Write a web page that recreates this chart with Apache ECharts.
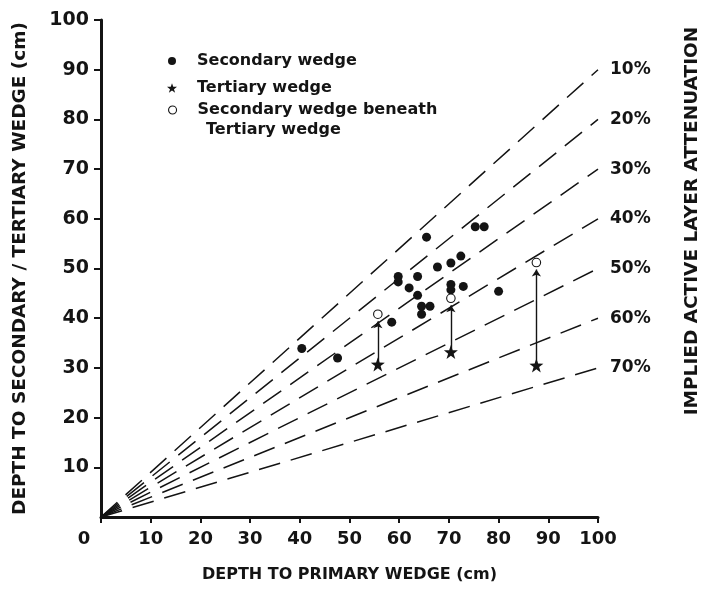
<!DOCTYPE html>
<html>
<head>
<meta charset="utf-8">
<script src="https://cdn.jsdelivr.net/npm/echarts@6/dist/echarts.min.js"></script>
<style>
  html, body { margin: 0; padding: 0; background: #fff; }
  #chart { width: 710px; height: 589px; }
</style>
</head>
<body>
<div id="chart"></div>
<script>
const FONT = 'DejaVu Sans';
const INK = '#141414';

// Attenuation reference lines y = (1 - p) * x, each ending at x = 100
const attenuationLabels = ['10%', '20%', '30%', '40%', '50%', '60%', '70%'];
const attenuationEndY = [90, 80, 70, 60, 50, 40, 30];
const lineEndX = 100;

// [depth to primary wedge, depth to secondary wedge] in cm
const secondaryWedge = [
  [40.4, 33.9], [47.6, 32.0], [58.5, 39.2], [59.8, 48.4], [59.8, 47.3],
  [62.0, 46.1], [63.7, 48.4], [63.7, 44.6], [64.5, 42.4], [66.2, 42.4],
  [64.5, 40.8], [65.5, 56.3], [67.7, 50.3], [70.4, 51.1], [72.4, 52.5],
  [70.4, 46.8], [70.4, 45.7], [72.9, 46.4], [75.3, 58.4], [77.1, 58.4],
  [80.0, 45.4]
];
// [depth to primary wedge, depth to tertiary wedge] in cm
const tertiaryWedge = [[55.7, 30.7], [70.4, 33.2], [87.6, 30.5]];
// secondary wedges found beneath the tertiary wedges above
const secondaryBeneathTertiary = [[55.7, 40.8], [70.4, 44.0], [87.6, 51.2]];

const STAR = 'path://M50,0 L62,34 L98,35 L69,57 L80,92 L50,71 L20,92 L31,57 L2,35 L38,34 Z';
const ARROW_GAP = 1.4; // keeps the arrow tip just below the open circle

const boldText = (size) => ({ fontFamily: FONT, fontWeight: 'bold', fontSize: size, color: INK });

const lineSeries = attenuationLabels.map((label, i) => ({
  name: label,
  type: 'line',
  data: [[0, 0], [lineEndX, attenuationEndY[i]]],
  symbol: 'none',
  silent: true,
  z: 1,
  lineStyle: { color: INK, width: 1.5, type: [22, 11] },
  endLabel: {
    show: true,
    formatter: '{a}',
    distance: 12,
    ...boldText(17)
  }
}));

const arrowData = tertiaryWedge.map((p, i) => ({
  coords: [p, [secondaryBeneathTertiary[i][0], secondaryBeneathTertiary[i][1] - ARROW_GAP]]
}));

const legendBase = {
  orient: 'vertical',
  padding: 0,
  itemWidth: 8,
  itemHeight: 8,
  selectedMode: false,
  textStyle: { ...boldText(16), padding: [0, 0, 0, 16] }
};

const option = {
  backgroundColor: '#fff',
  animation: false,
  grid: { left: 101, right: 112, top: 20, bottom: 72, containLabel: false },
  xAxis: {
    type: 'value',
    min: 0, max: 100, interval: 10,
    name: 'DEPTH TO PRIMARY WEDGE (cm)',
    nameLocation: 'middle',
    nameGap: 50,
    nameTextStyle: boldText(16),
    axisLine: { show: true, onZero: false, lineStyle: { color: INK, width: 3 } },
    axisTick: { show: true, length: 6, lineStyle: { color: INK, width: 2 } },
    splitLine: { show: false },
    axisLabel: {
      margin: 13,
      ...boldText(18),
      formatter: (v) => (v === 0 ? '{z|0}' : String(v)),
      rich: { z: { ...boldText(18), padding: [0, 34, 0, 0] } }
    }
  },
  yAxis: {
    type: 'value',
    min: 0, max: 100, interval: 10,
    name: 'DEPTH TO SECONDARY / TERTIARY WEDGE (cm)',
    nameLocation: 'middle',
    nameRotate: 90,
    nameGap: 71,
    nameTextStyle: boldText(18.5),
    axisLine: { show: true, onZero: false, lineStyle: { color: INK, width: 3 } },
    axisTick: { show: true, length: 7, lineStyle: { color: INK, width: 2 } },
    splitLine: { show: false },
    axisLabel: { margin: 12, showMinLabel: false, ...boldText(19) }
  },
  legend: [
    { ...legendBase, left: 168, top: 53,
      itemStyle: { color: INK, opacity: 1 },
      data: [{ name: 'Secondary wedge', icon: 'circle' }] },
    { ...legendBase, left: 167, top: 80, itemWidth: 10, itemHeight: 10,
      textStyle: { ...boldText(16), padding: [0, 0, 0, 15] },
      itemStyle: { color: INK, opacity: 1 },
      data: [{ name: 'Tertiary wedge', icon: STAR }] },
    { ...legendBase, left: 168, top: 102,
      itemStyle: { color: '#fff', borderColor: INK, borderWidth: 1.1, opacity: 1 },
      data: [{ name: 'Secondary wedge beneath', icon: 'circle' }] }
  ],
  graphic: [
    {
      type: 'text', left: 206, top: 122,
      style: { text: 'Tertiary wedge', font: `bold 16px "${FONT}"`, fill: INK }
    },
    {
      type: 'text', x: 692, y: 221, rotation: Math.PI / 2,
      style: {
        text: 'IMPLIED ACTIVE LAYER ATTENUATION',
        font: `bold 18.5px "${FONT}"`, fill: INK,
        textAlign: 'center', textVerticalAlign: 'middle'
      }
    }
  ],
  series: [
    ...lineSeries,
    {
      name: 'arrows',
      type: 'lines',
      coordinateSystem: 'cartesian2d',
      silent: true,
      z: 3,
      symbol: ['none', 'arrow'],
      symbolSize: 7,
      lineStyle: { color: INK, width: 1.4, opacity: 1 },
      data: arrowData
    },
    {
      name: 'Secondary wedge',
      type: 'scatter',
      data: secondaryWedge,
      symbol: 'circle',
      symbolSize: 9,
      z: 4,
      itemStyle: { color: INK, opacity: 1 }
    },
    {
      name: 'Tertiary wedge',
      type: 'scatter',
      data: tertiaryWedge,
      symbol: STAR,
      symbolSize: 14,
      z: 4,
      itemStyle: { color: INK, opacity: 1 }
    },
    {
      name: 'Secondary wedge beneath',
      type: 'scatter',
      data: secondaryBeneathTertiary,
      symbol: 'circle',
      symbolSize: 8.5,
      z: 4,
      itemStyle: { color: '#fff', borderColor: INK, borderWidth: 1.1, opacity: 1 }
    }
  ]
};

const chart = echarts.init(document.getElementById('chart'), null, { renderer: 'canvas' });
chart.setOption(option);
</script>
</body>
</html>
